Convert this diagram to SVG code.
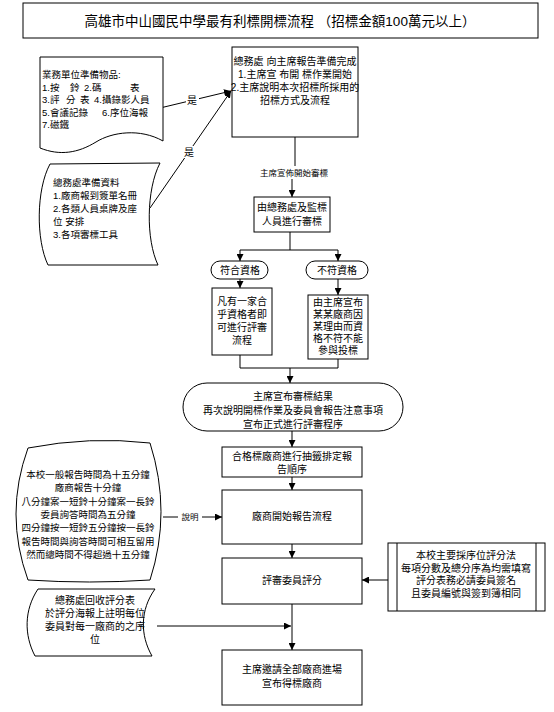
<svg xmlns="http://www.w3.org/2000/svg" width="554" height="712" viewBox="0 0 554 712">
<defs>
<marker id="arr" markerWidth="7" markerHeight="7" refX="7" refY="3.5" orient="auto" markerUnits="userSpaceOnUse"><path d="M0,0 L7,3.5 L0,7 Z" fill="#000"/></marker>
<style>
.b{fill:#fff;stroke:#000;stroke-width:1}
.l{fill:none;stroke:#000;stroke-width:1}
.a{fill:none;stroke:#000;stroke-width:1;marker-end:url(#arr)}
text{font-family:"Liberation Sans","Noto Sans CJK TC",sans-serif;font-size:10px;fill:#000}
.c{text-anchor:middle}
.s{font-size:9.5px}
.lab{font-size:8.5px;text-anchor:middle}
</style>
</defs>
<rect width="554" height="712" fill="#fff"/>
<g id="connectors">
<path class="a" d="M160,108 L231,91"/>
<path class="a" d="M150,208 L231,91"/>
<path class="l" d="M295,137 V166"/>
<path class="a" d="M292,179 V197"/>
<path class="l" d="M290,232 V250 M240,250 H338"/>
<path class="a" d="M240,250 V261"/>
<path class="a" d="M338,250 V261"/>
<path class="a" d="M240,279 V288"/>
<path class="a" d="M338,279 V295"/>
<path class="l" d="M240,355 V368 M338,359 V368 M240,368 H338"/>
<path class="a" d="M290,368 V383"/>
<path class="a" d="M292,431 V447"/>
<path class="a" d="M292,477 V490"/>
<path class="a" d="M292,544 V558"/>
<path class="a" d="M292,604 V650"/>
<path class="a" d="M163,517 H222"/>
<path class="a" d="M388,580 H362"/>
<path class="a" d="M157,626 H291"/>
<rect x="186" y="94" width="13" height="12" fill="#fff"/>
<text class="c" x="192" y="104">是</text>
<rect x="183" y="146" width="13" height="12" fill="#fff"/>
<text class="c" x="189" y="156">是</text>
<text class="lab" x="294" y="176">主席宣佈開始審標</text>
<rect x="178" y="511" width="24" height="12" fill="#fff"/>
<text class="lab" x="190" y="520">說明</text>
</g>
<g id="title">
<rect class="b" x="23" y="3" width="515" height="35"/>
<text class="c" x="280" y="26" style="font-size:13.5px">高雄市中山國民中學最有利標開標流程 （招標金額100萬元以上）</text>
</g>
<g id="doc1">
<path class="b" d="M40,57 H163 V141 C140,128 112,132 96,142 C78,153 60,156 40,148 Z"/>
<text class="s" x="42" y="78">業務單位準備物品:</text>
<text class="s" y="90.5"><tspan x="42">1.按</tspan><tspan x="70">鈴</tspan><tspan x="84">2.碼</tspan><tspan x="130">表</tspan></text>
<text class="s" y="103"><tspan x="42">3.評</tspan><tspan x="66">分</tspan><tspan x="80">表</tspan><tspan x="94">4.攝錄影人員</tspan></text>
<text class="s" y="115.5"><tspan x="42">5.會議記錄</tspan><tspan x="102">6.序位海報</tspan></text>
<text class="s" x="42" y="128">7.磁鐵</text>
</g>
<g id="doc2">
<path class="b" d="M50,164 L160,163 C146,190 146,240 158,265 L48,265 C36,240 36,190 50,164 Z"/>
<text class="s" x="53" y="186">總務處準備資料</text>
<text class="s" x="53" y="199">1.廠商報到簽單名冊</text>
<text class="s" x="53" y="212">2.各類人員桌牌及座</text>
<text class="s" x="53" y="225">位 安排</text>
<text class="s" x="53" y="238">3.各項審標工具</text>
</g>
<g id="report-ready">
<rect class="b" x="232" y="47" width="126" height="90"/>
<text class="c" x="295" y="65">總務處 向主席報告準備完成</text>
<text class="c" x="295" y="78">1.主席宣 布開 標作業開始</text>
<text class="c" x="295" y="91">2.主席說明本次招標所採用的</text>
<text class="c" x="295" y="104">招標方式及流程</text>
</g>
<g id="review">
<rect class="b" x="254" y="197" width="76" height="35"/>
<text class="c" x="292" y="211">由總務處及監標</text>
<text class="c" x="292" y="225">人員進行審標</text>
</g>
<g id="qualified">
<rect class="b" x="211" y="261" width="57" height="18" rx="9"/>
<text class="c" x="240" y="274">符合資格</text>
</g>
<g id="unqualified">
<rect class="b" x="306" y="261" width="62" height="18" rx="9"/>
<text class="c" x="337" y="274">不符資格</text>
</g>
<g id="qualified-note">
<rect class="b" x="212" y="288" width="60" height="67"/>
<text class="c" x="242" y="305">凡有一家合</text>
<text class="c" x="242" y="318">乎資格者即</text>
<text class="c" x="242" y="331">可進行評審</text>
<text class="c" x="242" y="344">流程</text>
</g>
<g id="unqualified-note">
<rect class="b" x="308" y="295" width="60" height="64"/>
<text class="c" x="338" y="306">由主席宣布</text>
<text class="c" x="338" y="318">某某廠商因</text>
<text class="c" x="338" y="330">某理由而資</text>
<text class="c" x="338" y="342">格不符不能</text>
<text class="c" x="338" y="354">參與投標</text>
</g>
<g id="announce">
<rect class="b" x="183" y="383" width="220" height="48" rx="24"/>
<text class="c" x="293" y="400">主席宣布審標結果</text>
<text class="c" x="293" y="414">再次說明開標作業及委員會報告注意事項</text>
<text class="c" x="293" y="428">宣布正式進行評審程序</text>
</g>
<g id="draw-order">
<rect class="b" x="222" y="447" width="140" height="30"/>
<text class="c" x="292" y="460">合格標廠商進行抽籤排定報</text>
<text class="c" x="292" y="473">告順序</text>
</g>
<g id="time-note">
<path class="b" d="M28,448 Q90,436 150,443 Q172,512 150,580 Q90,584 28,580 Q4,514 28,448 Z"/>
<text class="c s" x="88" y="478">本校一般報告時間為十五分鐘</text>
<text class="c s" x="88" y="491">廠商報告十分鐘</text>
<text class="c s" x="88" y="504.5">八分鐘案一短鈴十分鐘案一長鈴</text>
<text class="c s" x="88" y="518">委員詢答時間為五分鐘</text>
<text class="c s" x="88" y="531">四分鐘按一短鈴五分鐘按一長鈴</text>
<text class="c s" x="88" y="544.5">報告時間與詢答時間可相互留用</text>
<text class="c s" x="88" y="558">然而總時間不得超過十五分鐘</text>
</g>
<g id="presentation">
<rect class="b" x="222" y="490" width="140" height="54"/>
<text class="c" x="292" y="520">廠商開始報告流程</text>
</g>
<g id="scoring">
<rect class="b" x="222" y="558" width="140" height="46"/>
<text class="c" x="292" y="584">評審委員評分</text>
</g>
<g id="scoring-rule">
<rect class="b" x="388" y="543" width="157" height="68"/>
<path class="l" d="M397,543 V611 M536,543 V611"/>
<text class="c" x="466" y="559">本校主要採序位評分法</text>
<text class="c" x="466" y="571.5">每項分數及總分序為均需填寫</text>
<text class="c" x="466" y="584">評分表務必請委員簽名</text>
<text class="c" x="466" y="596.5">且委員編號與簽到簿相同</text>
</g>
<g id="collect">
<path class="b" d="M38,589 L155,589 C140,610 140,635 152,656 L35,656 C24,635 24,610 38,589 Z"/>
<text class="c" x="95" y="604">總務處回收評分表</text>
<text class="c" x="95" y="617">於評分海報上註明每位</text>
<text class="c" x="95" y="630">委員對每一廠商的之序</text>
<text class="c" x="95" y="643">位</text>
</g>
<g id="winner">
<rect class="b" x="222" y="650" width="140" height="55"/>
<text class="c" x="292" y="673">主席邀請全部廠商進場</text>
<text class="c" x="292" y="687">宣布得標廠商</text>
</g>
</svg>
